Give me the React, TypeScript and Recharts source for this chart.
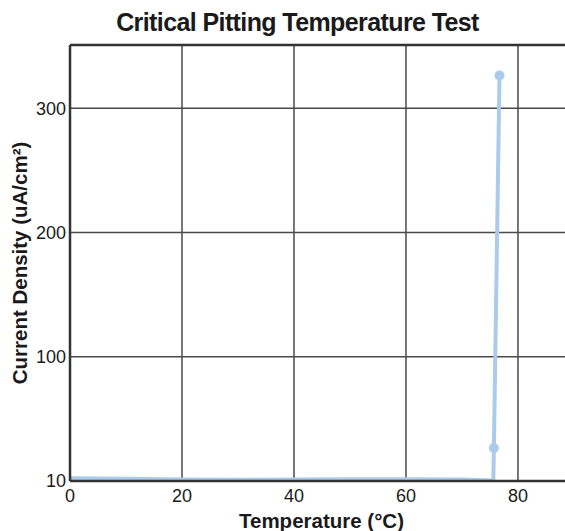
import React from 'react';
import { LineChart, Line, XAxis, YAxis, CartesianGrid, ReferenceLine } from 'recharts';

const temperatures = [0, 10, 20, 30, 40, 50, 60, 70, 75.6, 75.7, 76.7];
const currentDensity = [2.2, 1.8, 1.2, 1.0, 1.2, 1.4, 1.5, 1.2, 0.5, 26.6, 326.4];
const xTicks = [0, 20, 40, 60, 80];
const yTicks = [0, 100, 200, 300];
const yTickLabels = ['10', '100', '200', '300'];

const data = temperatures.map((t, i) => ({ t, v: currentDensity[i] }));

const FONT = '"Liberation Sans", Arial, Helvetica, sans-serif';
const LINE_COLOR = '#aacbec';
const Y_MAX = 351;

const renderDot = (props: any) => {
  const { cx, cy, index } = props;
  if (index < temperatures.length - 2) return <g key={`d${index}`} />;
  return <circle key={`d${index}`} cx={cx} cy={cy} r={5} fill={LINE_COLOR} stroke="none" />;
};

export default function App() {
  return (
    <div style={{ position: 'absolute', left: 0, top: 0, width: 565, height: 531, background: '#fff', fontFamily: FONT }}>
      <div
        style={{
          position: 'absolute',
          left: 0,
          width: 595,
          top: 8,
          textAlign: 'center',
          fontSize: 25,
          fontWeight: 'bold',
          color: '#1a1a1a',
          letterSpacing: -0.6,
          whiteSpace: 'nowrap',
          lineHeight: '28px',
        }}
      >
        Critical Pitting Temperature Test
      </div>
      <LineChart width={565} height={531} data={data} margin={{ top: 45, right: 0, bottom: 0, left: 0 }}>
        <CartesianGrid stroke="#4a4a4a" strokeWidth={1.5} horizontalValues={[100, 200, 300]} verticalValues={[20, 40, 60, 80]} />
        <ReferenceLine y={Y_MAX} stroke="#333" strokeWidth={2.5} ifOverflow="visible" />
        <XAxis
          dataKey="t"
          type="number"
          domain={[0, 88.4]}
          ticks={xTicks}
          allowDataOverflow
          height={50}
          tickLine={false}
          tickSize={4}
          tickMargin={4}
          axisLine={{ stroke: '#333', strokeWidth: 2.5 }}
          tick={{ fill: '#1a1a1a', fontSize: 18, fontFamily: FONT }}
          label={{ value: 'Temperature (°C)', position: 'insideBottom', offset: 3, dx: 4, fill: '#1a1a1a', fontSize: 20.5, fontWeight: 'bold', fontFamily: FONT }}
        />
        <YAxis
          type="number"
          domain={[0, Y_MAX]}
          ticks={yTicks}
          allowDataOverflow
          width={70}
          tickLine={false}
          tickSize={2}
          tickMargin={2}
          tickFormatter={(v: number) => yTickLabels[yTicks.indexOf(v)]}
          axisLine={{ stroke: '#333', strokeWidth: 2.5 }}
          tick={{ fill: '#1a1a1a', fontSize: 18, fontFamily: FONT }}
          label={{ value: 'Current Density (uA/cm²)', angle: -90, position: 'insideLeft', offset: 20, fill: '#1a1a1a', fontSize: 20.5, fontWeight: 'bold', fontFamily: FONT, style: { textAnchor: 'middle' } }}
        />
        <Line
          type="linear"
          dataKey="v"
          stroke={LINE_COLOR}
          strokeWidth={4}
          dot={renderDot}
          activeDot={false}
          isAnimationActive={false}
        />
      </LineChart>
    </div>
  );
}
